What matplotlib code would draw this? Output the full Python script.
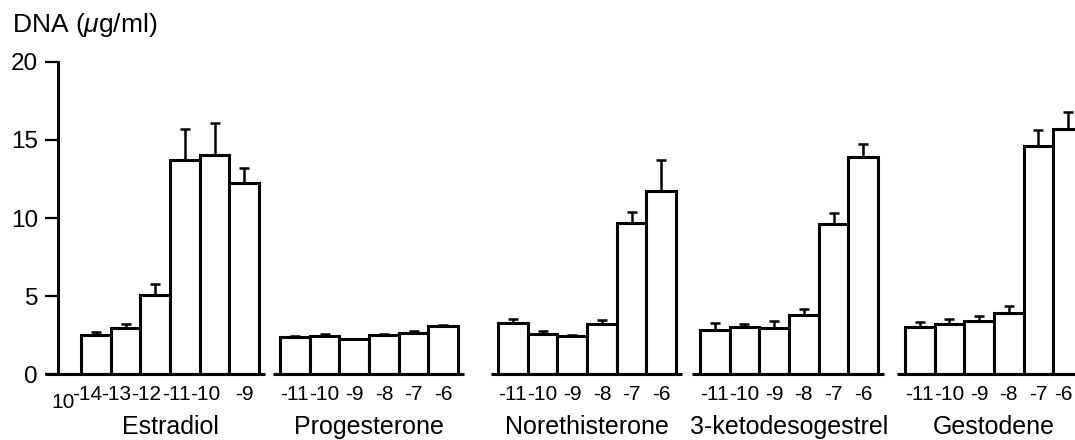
import matplotlib
matplotlib.use('Agg')
import matplotlib.pyplot as plt
import numpy as np

plt.rcParams['font.family'] = ['Liberation Sans', 'DejaVu Sans']
plt.rcParams['mathtext.fontset'] = 'custom'
plt.rcParams['mathtext.rm'] = 'Liberation Sans'
plt.rcParams['mathtext.it'] = 'Liberation Sans:italic'

# data (DNA, ug/ml; mean and upward error)
groups = ['Estradiol', 'Progesterone', 'Norethisterone', '3-ketodesogestrel', 'Gestodene']
doses = [
    ['-14', '-13', '-12', '-11', '-10', '-9'],
    ['-11', '-10', '-9', '-8', '-7', '-6'],
    ['-11', '-10', '-9', '-8', '-7', '-6'],
    ['-11', '-10', '-9', '-8', '-7', '-6'],
    ['-11', '-10', '-9', '-8', '-7', '-6'],
]
means = [
    [2.5, 2.94, 5.05, 13.7, 14.05, 12.25],
    [2.36, 2.43, 2.28, 2.5, 2.66, 3.1],
    [3.28, 2.6, 2.43, 3.24, 9.7, 11.7],
    [2.86, 3.03, 2.96, 3.77, 9.63, 13.9],
    [3.03, 3.24, 3.4, 3.94, 14.6, 15.7],
]
errs = [
    [0.2, 0.26, 0.7, 2.0, 2.05, 0.95],
    [0.12, 0.12, 0.0, 0.08, 0.12, 0.03],
    [0.28, 0.2, 0.1, 0.26, 0.7, 2.0],
    [0.42, 0.2, 0.43, 0.43, 0.67, 0.85],
    [0.31, 0.29, 0.33, 0.41, 1.0, 1.06],
]

# layout (x in bar-slot units)
group_start = [0.0, 6.70, 14.04, 20.84, 27.74]
LW = 2.2

fig = plt.figure(figsize=(10.75, 4.4), dpi=100)
ax = fig.add_axes([58 / 1075, 65.7 / 440, 1 - 58 / 1075, 312.6 / 440])
ax.set_xlim(-0.774, 33.47)
ax.set_ylim(0, 20)

for g, name in enumerate(groups):
    x = group_start[g] + np.arange(len(means[g])) + 0.5
    ax.bar(x, means[g], width=1.0, color='white', edgecolor='black',
           linewidth=LW, zorder=2, clip_on=False)
    ax.errorbar(x, means[g], yerr=[np.zeros(len(errs[g])), errs[g]],
                fmt='none', ecolor='black', elinewidth=1.8, capsize=3.8,
                capthick=1.8, zorder=3, clip_on=False)
    # baseline under each group
    left = -1.21 if g == 0 else group_start[g] - 0.25
    right = group_start[g] + 6.2 if g < 4 else group_start[g] + 7
    ax.plot([left, right], [0, 0], color='black', lw=LW, clip_on=False,
            solid_capstyle='butt', zorder=4)
    # dose labels
    if g == 0:
        ax.text(-0.6, -2.16, '10', ha='center', va='baseline', fontsize=15)
        for i, (xi, lab) in enumerate(zip(x, doses[g])):
            shift = -0.3 if i < 5 else 0.0
            ax.text(xi + shift, -1.64, lab, ha='center', va='baseline', fontsize=15)
    else:
        for i, (xi, lab) in enumerate(zip(x, doses[g])):
            # last label sits at the right edge of the figure
            shift = -0.16 if (g == 4 and i == 5) else 0.0
            ax.text(xi + shift, -1.64, lab, ha='center', va='baseline', fontsize=15)
    ax.text(x.mean(), -3.82, name, ha='center', va='baseline', fontsize=18)

for s in ['top', 'right', 'bottom']:
    ax.spines[s].set_visible(False)
ax.spines['left'].set_linewidth(LW)
ax.set_xticks([])
ax.set_yticks([0, 5, 10, 15, 20])
ax.tick_params(axis='y', length=9.4, width=1.6, labelsize=17.5, pad=5)

fig.text(12 / 1075, 1 - 32 / 440, r'DNA ($\mu$g/ml)', ha='left', va='baseline', fontsize=19)

fig.savefig('out.png', dpi=100)
